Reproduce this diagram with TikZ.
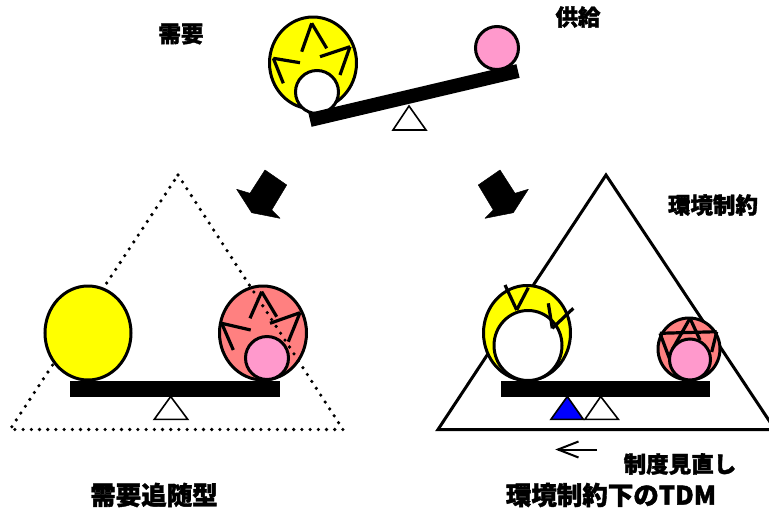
\documentclass[tikz,border=0pt]{standalone}
\usepackage{fontspec}
\newfontfamily\cjk{Noto Sans CJK JP}[BoldFeatures={FakeBold=1.5}]
\definecolor{ballyellow}{HTML}{FFFF00}
\definecolor{ballpink}{HTML}{FF99CC}
\definecolor{ballsalmon}{HTML}{FF8080}
\definecolor{fulblue}{HTML}{0000FF}
\begin{document}
\begin{tikzpicture}[x=1pt,y=-1pt,
  ball/.style={draw=black,line width=3pt},
  starline/.style={draw=black,line width=3.2pt},
  beam/.style={fill=black,draw=none},
  fulcrum/.style={draw=black,line width=1.6pt,fill=white},
  bigarrow/.style={fill=black,draw=black,line width=0.5pt,line join=round},
  lbl/.style={font=\cjk\bfseries\fontsize{22.5}{24}\selectfont,inner sep=0pt},
  biglbl/.style={font=\cjk\bfseries\fontsize{25.5}{27}\selectfont,inner sep=0pt}]
\useasboundingbox (0,0) rectangle (769,512);
\fill[white] (0,0) rectangle (769,512);

% ---------- top seesaw ----------
\draw[fulcrum] (409,106) -- (393,130) -- (426,130) -- cycle;
\draw[ball,fill=ballyellow] (313,63) ellipse [x radius=43.5,y radius=46];
\draw[starline] (311.7,23.3) -- (301.7,51.7);
\draw[starline] (311.7,23.3) -- (326.7,48.3);
\draw[starline] (320,56.7) -- (350,46.7);
\draw[starline] (350,46.7) -- (340,75);
\draw[starline] (273.3,58.3) -- (300,62.7);
\draw[starline] (273.3,58.3) -- (283.3,83.3);
\draw[ball,fill=white] (317,92) circle [radius=21.5];
\draw[ball,fill=ballpink] (497,48) circle [radius=21.5];
\fill[beam] (308.4,113.2) -- (516.4,64.2) -- (519.6,77.8) -- (311.6,126.8) -- cycle;

\node[lbl] (demand) at (181,34) {需要};
\node[lbl] (supply) at (578,17) {供給};

% ---------- arrows ----------
\fill[bigarrow] (265,170) -- (286.7,185) -- (271.7,210) -- (280,218.3) -- (251.7,212.7) -- (236.7,189.3) -- (250,193.3) -- cycle;
\fill[bigarrow] (500,170) -- (478.3,185) -- (493.3,210) -- (485,218.3) -- (513.3,212.7) -- (528.3,189.3) -- (515,193.3) -- cycle;

% ---------- bottom left ----------
\draw[ball,fill=ballsalmon] (263,333) ellipse [x radius=43.5,y radius=47];
\draw[starline] (261.7,291.7) -- (250,318.3);
\draw[starline] (261.7,291.7) -- (276.7,316.7);
\draw[starline] (270,323.3) -- (300,312.7);
\draw[starline] (300,312.7) -- (288.3,341.7);
\draw[starline] (221.7,323.3) -- (250.7,330);
\draw[starline] (221.7,323.3) -- (233.3,350);
\draw[ball,fill=ballpink] (267,358) circle [radius=21.5];
\draw[line width=3.6pt,line cap=round,dash pattern=on 0pt off 8.2pt]
  (178,175) -- (343,429.5) -- (10,429.5) -- cycle;
\draw[ball,fill=ballyellow] (88,333) ellipse [x radius=43,y radius=47];
\fill[beam] (70,381) rectangle (279.5,397);
\draw[fulcrum] (170.7,396.5) -- (154.3,419.3) -- (187.7,419.3) -- cycle;

\node[biglbl] (follow) at (154,495) {需要追随型};

% ---------- bottom right ----------
\draw[line width=3pt,line join=miter] (606,175) -- (775,429.5) -- (438,429.5) -- cycle;
\draw[ball,fill=ballyellow] (527,333) ellipse [x radius=43.5,y radius=47.5];
\draw[ball,fill=white] (528,345.5) ellipse [x radius=34,y radius=35];
\draw[starline] (505,285) -- (516.7,310);
\draw[starline] (516.7,310) -- (528.3,287.7);
\draw[starline] (548.3,303.3) -- (552.3,328.3);
\draw[starline] (552.3,328.3) -- (573.3,308.3);
\draw[ball,fill=ballsalmon] (689,349) circle [radius=31];
\draw[starline] (690,318.3) -- (672,350);
\draw[starline] (690,318.3) -- (700,340);
\draw[starline] (660,333.3) -- (716.7,331.7);
\draw[starline] (660,333.3) -- (670,360);
\draw[starline] (716.7,331.7) -- (711.7,352);
\draw[ball,fill=ballpink] (690,359.5) circle [radius=20.5];
\fill[beam] (501,381) rectangle (710,397);
\draw[fulcrum,fill=fulblue] (567.3,396.5) -- (551,419.3) -- (583.3,419.3) -- cycle;
\draw[fulcrum] (600.7,396.5) -- (585,419.3) -- (618.3,419.3) -- cycle;

\node[lbl] (envc) at (713,205) {環境制約};
\coordinate (revR) at (597,449.5);
\coordinate (revL) at (558,449.5);
\draw[line width=2pt] (revR) -- (revL);
\draw[line width=2pt,line join=miter] (578.5,441.5) -- (revL) -- (578.5,457.5);
\node[lbl] (review) at (680,464) {制度見直し};
\node[biglbl] (tdm) at (611,495) {環境制約下のTDM};
\end{tikzpicture}
\end{document}
